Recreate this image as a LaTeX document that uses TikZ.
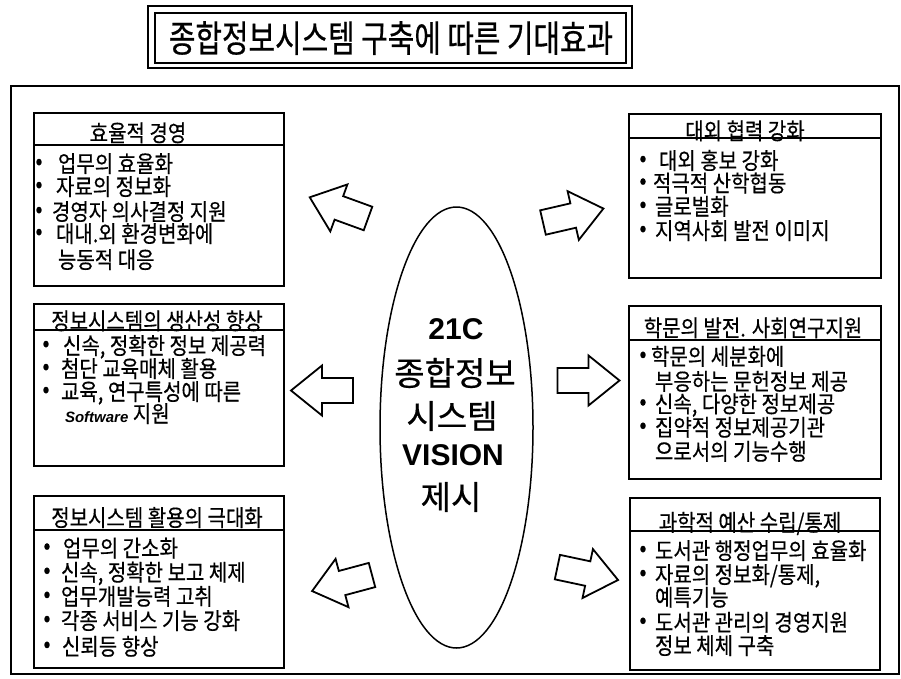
\documentclass[tikz,border=0pt]{standalone}
\usepackage{fontspec}
\newfontfamily\kr[FakeStretch=0.87,FakeBold=0.4]{Noto Sans CJK KR}
\newfontfamily\krt[FakeStretch=0.78,FakeBold=0.5]{Noto Sans CJK KR}
\newfontfamily\krw[FakeStretch=1.0,FakeBold=0.5]{Noto Sans CJK KR}
\newfontfamily\lat{Liberation Sans}
\usetikzlibrary{shapes.geometric}
\tikzset{
  txt/.style={inner sep=0pt, outer sep=0pt},
  item/.style={txt, anchor=base west, font=\kr\fontsize{23}{26}\selectfont},
  head/.style={txt, anchor=base, font=\kr\fontsize{23}{26}\selectfont},
  bul/.style={txt, anchor=center, font=\kr\fontsize{24}{26}\selectfont},
  midkr/.style={txt, anchor=center, font=\krw\fontsize{33}{38}\selectfont},
  midlat/.style={txt, anchor=center, font=\lat\bfseries\fontsize{30}{36}\selectfont},
  panel/.style={draw, line width=1.5pt, anchor=north west, inner sep=0pt, fill=white},
  divider/.style={line width=1.5pt},
  blockarr/.style={draw, line width=1.8pt, fill=white, line join=miter},
}
\newcommand\barrow[3]{\draw[blockarr, shift={(#1,#2)}, rotate=#3] (0,12.5) -- (31,12.5) -- (31,25) -- (62,0) -- (31,-25) -- (31,-12.5) -- (0,-12.5) -- cycle;}
\begin{document}
\begin{tikzpicture}[x=1pt,y=-1pt]
\useasboundingbox (0,0) rectangle (901,678);
% title
\node[draw, line width=2pt, minimum width=484pt, minimum height=62pt, anchor=north west, inner sep=0pt] (tout) at (147,5) {};
\node[draw, line width=1.6pt, minimum width=471pt, minimum height=50pt, anchor=north west, inner sep=0pt] (tin) at (154,12) {};
\node[txt, anchor=center, font=\krt\fontsize{37}{44}\selectfont] (title) at (391,38) {종합정보시스템 구축에 따른 기대효과};
% outer frame
\node[draw, line width=2pt, minimum width=888pt, minimum height=588pt, anchor=north west, inner sep=0pt] (frame) at (10,85) {};
% panels
\node[panel, minimum width=250pt, minimum height=173pt] (b1) at (33,112) {};
\draw[divider] (33,145) -- (283,145);
\node[panel, minimum width=250pt, minimum height=162pt] (b2) at (33,303) {};
\draw[divider] (33,330) -- (283,330);
\node[panel, minimum width=250pt, minimum height=172pt] (b3) at (33,495) {};
\draw[divider] (33,530) -- (283,530);
\node[panel, minimum width=252pt, minimum height=164pt] (b4) at (628,113) {};
\draw[divider] (628,138) -- (880,138);
\node[panel, minimum width=252pt, minimum height=173pt] (b5) at (628,305) {};
\draw[divider] (628,340) -- (880,340);
\node[panel, minimum width=250pt, minimum height=172pt] (b6) at (629,497) {};
\draw[divider] (629,531) -- (879,531);
% ellipse
\node[draw, ellipse, line width=1.5pt, minimum width=153pt, minimum height=441pt, inner sep=0pt] (vision) at (456.5,427.5) {};
\node[midlat] (v1) at (456,329) {21C};
\node[midkr] (v2) at (455,373) {종합정보};
\node[midkr] (v3) at (452,416) {시스템};
\node[midlat] (v4) at (453,455) {VISION};
\node[midkr] (v5) at (451,497) {제시};
% arrows
\barrow{368}{218.5}{160}
\barrow{543}{222.5}{13}
\barrow{353}{390.5}{180}
\barrow{557.5}{380.5}{0}
\barrow{372}{575}{195}
\barrow{557.4}{567.1}{-12}
% box 1
\node[head] (b1h) at (138,141.5) {효율적 경영};
\node[bul] (b1b1) at (39,164) {•};
\node[item] (b1l1) at (58,172.2) {업무의 효율화};
\node[bul] (b1b2) at (39,187) {•};
\node[item] (b1l2) at (56,195.2) {자료의 정보화};
\node[bul] (b1b3) at (39,212) {•};
\node[item] (b1l3) at (52,220.2) {경영자 의사결정 지원};
\node[bul] (b1b4) at (39,234) {•};
\node[item] (b1l4) at (56,242.2) {대내.외 환경변화에};
\node[item] (b1l5) at (58,268.2) {능동적 대응};
% box 2
\node[head] (b2h) at (157,329.5) {정보시스템의 생산성 향상};
\node[bul] (b2b1) at (46,346) {•};
\node[item] (b2l1) at (63,354.2) {신속, 정확한 정보 제공력};
\node[bul] (b2b2) at (46,369) {•};
\node[item] (b2l2) at (61,377.2) {첨단 교육매체 활용};
\node[bul] (b2b3) at (46,392) {•};
\node[item] (b2l3) at (61,400.2) {교육, 연구특성에 따른};
\node[item] (b2l4) at (65,422.2) {{\lat\bfseries\itshape\fontsize{15}{20}\selectfont Software} 지원};
% box 3
\node[head] (b3h) at (157,526.2) {정보시스템 활용의 극대화};
\node[bul] (b3b1) at (47,548.5) {•};
\node[item] (b3l1) at (63,556.7) {업무의 간소화};
\node[bul] (b3b2) at (47,572.7) {•};
\node[item] (b3l2) at (61,580.9) {신속, 정확한 보고 체제};
\node[bul] (b3b3) at (47,596.8) {•};
\node[item] (b3l3) at (61,605.0) {업무개발능력 고취};
\node[bul] (b3b4) at (47,621) {•};
\node[item] (b3l4) at (61,629.2) {각종 서비스 기능 강화};
\node[bul] (b3b5) at (47,646.8) {•};
\node[item] (b3l5) at (62,655.0) {신뢰등 향상};
% box 4
\node[head] (b4h) at (745,139.5) {대외 협력 강화};
\node[bul] (b4b1) at (643,161) {•};
\node[item] (b4l1) at (659,169.2) {대외 홍보 강화};
\node[bul] (b4b2) at (643,183.5) {•};
\node[item] (b4l2) at (653,191.7) {적극적 산학협동};
\node[bul] (b4b3) at (643,206.8) {•};
\node[item] (b4l3) at (655,215.0) {글로벌화};
\node[bul] (b4b4) at (643,231) {•};
\node[item] (b4l4) at (655,239.2) {지역사회 발전 이미지};
% box 5
\node[head] (b5h) at (753,336.5) {학문의 발전. 사회연구지원};
\node[bul] (b5b1) at (643,356.8) {•};
\node[item] (b5l1) at (651,365.0) {학문의 세분화에};
\node[item] (b5l2) at (655,390.0) {부응하는 문헌정보 제공};
\node[bul] (b5b2) at (643,404.3) {•};
\node[item] (b5l3) at (655,412.5) {신속, 다양한 정보제공};
\node[bul] (b5b3) at (643,427.7) {•};
\node[item] (b5l4) at (655,435.9) {집약적 정보제공기관};
\node[item] (b5l5) at (655,460.0) {으로서의 기능수행};
% box 6
\node[head] (b6h) at (750,531.0) {과학적 예산 수립/통제};
\node[bul] (b6b1) at (643,551) {•};
\node[item] (b6l1) at (655,559.2) {도서관 행정업무의 효율화};
\node[bul] (b6b2) at (643,575) {•};
\node[item] (b6l2) at (655,583.2) {자료의 정보화/통제,};
\node[item] (b6l3) at (655,605.9) {예특기능};
\node[bul] (b6b3) at (643,622.7) {•};
\node[item] (b6l4) at (655,630.9) {도서관 관리의 경영지원};
\node[item] (b6l5) at (655,654.2) {정보 체체 구축};
\end{tikzpicture}
\end{document}
